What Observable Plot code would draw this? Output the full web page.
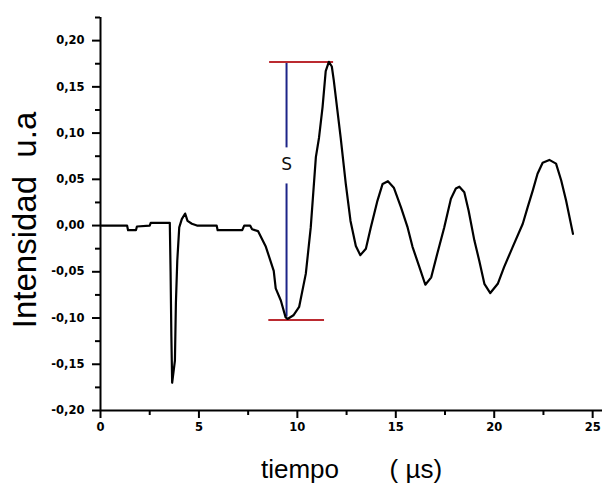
<!DOCTYPE html>
<html>
<head>
<meta charset="utf-8">
<script src="https://cdn.jsdelivr.net/npm/d3@7"></script>
<script src="https://cdn.jsdelivr.net/npm/@observablehq/plot@0.6"></script>
<style>
  html, body { margin: 0; padding: 0; background: #fff; }
  #chart svg { display: block; }
</style>
</head>
<body>
<div id="chart"></div>
<script>
// Signal trace: time (µs) and intensity (a.u.)
const tiempo = [0.05, 1.35, 1.4, 1.8, 1.85, 2.5, 2.55, 3.5, 3.52, 3.56, 3.6, 3.64, 3.78, 3.83, 3.9, 4.0,
  4.13, 4.3, 4.42, 4.64, 4.9, 5.9, 5.95, 7.2, 7.3, 7.6, 7.7, 8.0, 8.4, 8.8, 8.9, 9.16, 9.4, 9.5, 9.8,
  10.09, 10.43, 10.68, 10.94, 11.1, 11.28, 11.44, 11.6, 11.75, 11.85, 12.2, 12.46, 12.7, 12.97, 13.2,
  13.48, 13.73, 14.07, 14.33, 14.6, 14.9, 15.26, 15.6, 15.85, 16.2, 16.5, 16.8, 17.1, 17.46, 17.8,
  18.05, 18.23, 18.48, 18.7, 18.99, 19.24, 19.5, 19.8, 20.18, 20.5, 20.94, 21.45, 21.7, 21.96, 22.2,
  22.46, 22.8, 23.14, 23.4, 23.65, 24.0];
const intensidad = [0.0, 0.0, -0.005, -0.005, -0.001, 0.0, 0.003, 0.003, 0.003, -0.05, -0.12, -0.17,
  -0.146, -0.084, -0.038, -0.002, 0.007, 0.013, 0.005, 0.002, 0.0, 0.0, -0.005, -0.005, 0.0, 0.0,
  -0.004, -0.006, -0.023, -0.049, -0.068, -0.081, -0.099, -0.101, -0.097, -0.088, -0.052, -0.002,
  0.074, 0.095, 0.128, 0.167, 0.177, 0.172, 0.157, 0.095, 0.045, 0.005, -0.022, -0.032, -0.025,
  -0.002, 0.027, 0.045, 0.048, 0.041, 0.02, -0.002, -0.023, -0.045, -0.064, -0.056, -0.031, -0.002,
  0.029, 0.040, 0.042, 0.036, 0.016, -0.016, -0.038, -0.063, -0.073, -0.063, -0.045, -0.023, 0.002,
  0.02, 0.038, 0.056, 0.068, 0.071, 0.067, 0.049, 0.027, -0.009];

// Amplitude marker S: peak and trough levels
const picoMax = 0.177;
const picoMin = -0.102;
const tiempoS = 9.45;

// Axis ticks
const xTicks = [0, 5, 10, 15, 20, 25];
const xMinor = [2.5, 7.5, 12.5, 17.5, 22.5];
const yTicks = [-0.2, -0.15, -0.1, -0.05, 0, 0.05, 0.1, 0.15, 0.2];
const yMinor = [-0.175, -0.125, -0.075, -0.025, 0.025, 0.075, 0.125, 0.175, 0.225];

const serie = tiempo.map((t, i) => ({t, v: intensidad[i]}));
const fmtY = d => (Math.abs(d) < 1e-9 ? 0 : d).toFixed(2).replace(".", ",");
const tickFont = {fontSize: 11.5, fontWeight: "bold", fontFamily: "DejaVu Sans, sans-serif"};

const chart = Plot.plot({
  width: 603,
  height: 488,
  marginLeft: 100,
  marginRight: 1,
  marginTop: 17,
  marginBottom: 78,
  style: {fontFamily: "Liberation Sans, Arial, sans-serif", background: "#fff", color: "#000"},
  x: {domain: [0, 25.5]},
  y: {domain: [-0.2, 0.225]},
  marks: [
    Plot.axisX(xTicks, {tickSize: 8, tickPadding: 4, strokeWidth: 2, tickFormat: d => String(d), label: null, ...tickFont}),
    Plot.axisX(xMinor, {tickSize: 5, strokeWidth: 2, tickFormat: () => "", label: null}),
    Plot.axisY(yTicks, {tickSize: 8, tickPadding: 8, strokeWidth: 2, tickFormat: fmtY, label: null, ...tickFont}),
    Plot.axisY(yMinor, {tickSize: 5, strokeWidth: 2, tickFormat: () => "", label: null}),
    Plot.ruleX([0], {stroke: "#000", strokeWidth: 2}),
    Plot.ruleY([-0.2], {stroke: "#000", strokeWidth: 2}),
    // amplitude S: vertical span with a gap around its label
    Plot.ruleX([
      {x: tiempoS, y1: picoMax, y2: 0.084},
      {x: tiempoS, y1: 0.045, y2: picoMin + 0.003}
    ], {x: "x", y1: "y1", y2: "y2", stroke: "#1c2488", strokeWidth: 2}),
    Plot.ruleY([
      {y: picoMax, x1: 8.59, x2: 11.84},
      {y: picoMin, x1: 8.55, x2: 11.38}
    ], {y: "y", x1: "x1", x2: "x2", stroke: "#bb2a30", strokeWidth: 2}),
    Plot.text(["S"], {x: tiempoS, y: 0.066, fontSize: 17, fill: "#111", fontFamily: "DejaVu Sans, sans-serif"}),
    Plot.line(serie, {x: "t", y: "v", stroke: "#000", strokeWidth: 2.2, strokeLinejoin: "round"}),
    Plot.text(["tiempo\u00a0\u00a0\u00a0\u00a0\u00a0\u00a0\u00a0( µs)"], {frameAnchor: "bottom", textAnchor: "middle", dy: 67, fontSize: 26, fill: "#000"}),
    Plot.text(["Intensidad\u00a0\u00a0u.a"], {frameAnchor: "left", textAnchor: "middle", dx: -75, dy: 6, rotate: -90, fontSize: 33, fill: "#000"})
  ]
});
document.getElementById("chart").appendChild(chart);
</script>
</body>
</html>
